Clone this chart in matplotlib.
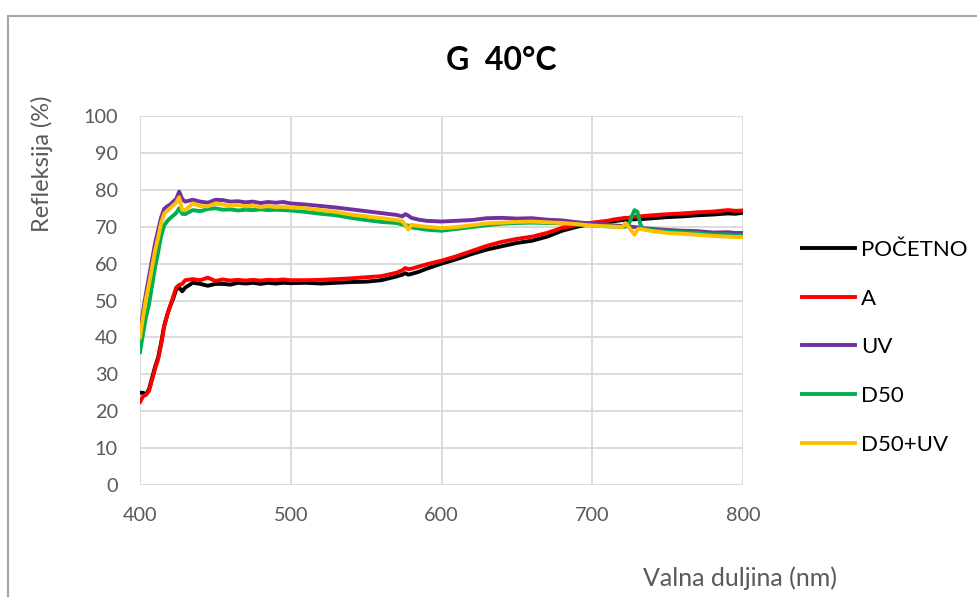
import matplotlib
matplotlib.use("Agg")
import matplotlib.pyplot as plt
from matplotlib.patches import Rectangle

wavelengths = [400,402,404,406,408,410,412,414,416,418,420,422,424,426,428,430,435,440,445,450,
               455,460,465,470,475,480,485,490,495,500,510,520,530,540,550,560,570,574,576,578,
               580,585,590,600,610,620,630,640,650,660,670,680,690,700,710,715,720,722,724,726,
               728,730,732,734,740,750,760,770,780,790,795,800]

pocetno = [25,25,24.5,26,29,32,34.5,38.5,43,46,48.5,50.5,53,53.5,52.5,53.5,54.8,54.5,54,54.5,
           54.5,54.3,54.8,54.6,54.8,54.5,54.8,54.6,54.8,54.7,54.8,54.6,54.8,55,55.1,55.5,56.5,57,57.4,57,
           57.2,57.8,58.6,60.0,61.2,62.6,63.8,64.7,65.6,66.2,67.3,68.9,70,70.8,71.2,71.5,71.8,71.7,71.9,72,
           72,72.1,72,72.1,72.3,72.6,72.8,73.1,73.3,73.6,73.5,73.8]

a_series = [22.5,24,24.5,25.5,28.5,31.5,34,38,43,46,48.5,51,53.5,54.2,54.5,55.5,55.8,55.5,56.2,55.3,
            55.7,55.4,55.6,55.4,55.6,55.4,55.6,55.5,55.7,55.5,55.5,55.6,55.8,56,56.3,56.6,57.5,58.2,58.8,58.5,
            58.6,59.2,59.8,60.8,62,63.4,64.8,65.9,66.7,67.3,68.3,69.7,70.5,71.1,71.6,72,72.3,72.4,72.4,72.6,
            72.7,72.8,72.8,72.9,73.1,73.4,73.6,73.9,74.1,74.5,74.3,74.4]

uv = [41,47,52,56.5,61,65.5,69,72.5,74.8,75.5,76,76.8,77.5,79.5,77.5,76.8,77.3,76.8,76.5,77.3,
      77.2,76.8,76.9,76.6,76.8,76.4,76.7,76.5,76.7,76.3,76,75.6,75.2,74.7,74.2,73.7,73.2,72.8,73.4,73.0,
      72.4,71.9,71.6,71.4,71.6,71.8,72.3,72.4,72.2,72.3,71.9,71.7,71.2,70.8,70.6,70.3,70.2,70.3,70.1,70.0,
      69.9,69.8,69.5,69.6,69.4,69.1,68.9,68.8,68.4,68.5,68.3,68.3]

d50 = [36,41,45.5,49,54,59,63,67.5,70.3,71.5,72.3,73,73.7,75,73.5,73.4,74.5,74.2,74.8,75,
       74.6,74.7,74.4,74.6,74.5,74.7,74.5,74.6,74.5,74.4,74,73.5,73.1,72.4,71.8,71.3,71,70.6,70.4,70.3,
       69.8,69.5,69.2,68.9,69.4,69.9,70.4,70.8,71,71.1,71,70.9,70.6,70.3,70.1,70,69.9,70,70.5,72.5,
       74.5,74,70.5,69.4,69.1,68.7,68.5,68.3,67.9,67.9,67.7,67.7]

d50_uv = [40,45.5,50.5,54.5,59,63.5,67,71,73.5,74.3,75,75.8,76.5,78,74.5,74.5,76.3,75.6,75.5,76.3,
          76,75.7,75.9,75.5,75.7,75.3,75.6,75.3,75.4,75.2,75,74.5,74,73.3,72.8,72.3,71.8,71.5,70.5,69.2,
          70.5,70.2,70,69.6,69.9,70.4,70.9,71.1,71.3,71.4,71.2,71,70.7,70.3,70.1,70,69.9,71.0,70,69,
          67.8,69.3,69.4,69.2,68.8,68.3,68.1,67.8,67.5,67.3,67.2,67.2]

series_names = ["POČETNO", "A", "UV", "D50", "D50+UV"]
series_values = [pocetno, a_series, uv, d50, d50_uv]
series_colors = ["#000000", "#FF0000", "#7030A0", "#00B050", "#FFC000"]

x_ticks = [400, 500, 600, 700, 800]
y_ticks = list(range(0, 101, 10))

plt.rcParams['font.family'] = ['Lato', 'DejaVu Sans']

W, H = 978, 597
fig = plt.figure(figsize=(W/100, H/100), dpi=100)
fig.patch.set_facecolor('white')

# outer chart border (partly clipped at right/bottom)
fig.add_artist(Rectangle((8/W, -0.05), 1.1, 1 - 16/H + 0.05, transform=fig.transFigure,
                         fill=False, edgecolor='#a6a6a6', linewidth=1.5))

ax = fig.add_axes([140/W, 1 - 485/H, (743-140)/W, (485-116)/H])
for name, vals, col in zip(series_names, series_values, series_colors):
    ax.plot(wavelengths, vals, color=col, linewidth=2.8, label=name, solid_joinstyle='round')

ax.set_xlim(400, 800)
ax.set_ylim(0, 100)
ax.set_xticks(x_ticks)
ax.set_yticks(y_ticks)
ax.grid(True, color='#d9d9d9', linewidth=1.3)
ax.set_axisbelow(True)
for s in ax.spines.values():
    s.set_visible(False)
ax.tick_params(length=0, labelsize=14.3, colors='#595959')
ax.tick_params(axis='y', pad=16)
ax.tick_params(axis='x', pad=16)

fig.text(501/W, 1 - 60/H, "G  40°C", ha='center', va='center', fontsize=23, fontweight='bold', color='black')
fig.text(42/W, 1 - 164/H, "Refleksija (%)", rotation=90, ha='center', va='center', fontsize=17, color='#595959')
fig.text(740/W, 1 - 578/H, "Valna duljina (nm)", ha='center', va='center', fontsize=18, color='#595959')

leg = ax.legend(loc='upper left', bbox_to_anchor=(793/W, 1 - 231/H), bbox_transform=fig.transFigure,
                frameon=False, fontsize=16, handlelength=2.4, handletextpad=0.25, labelspacing=1.29,
                borderaxespad=0)
for t in leg.get_texts():
    t.set_color('black')

fig.savefig("out.png", dpi=100, facecolor='white')
